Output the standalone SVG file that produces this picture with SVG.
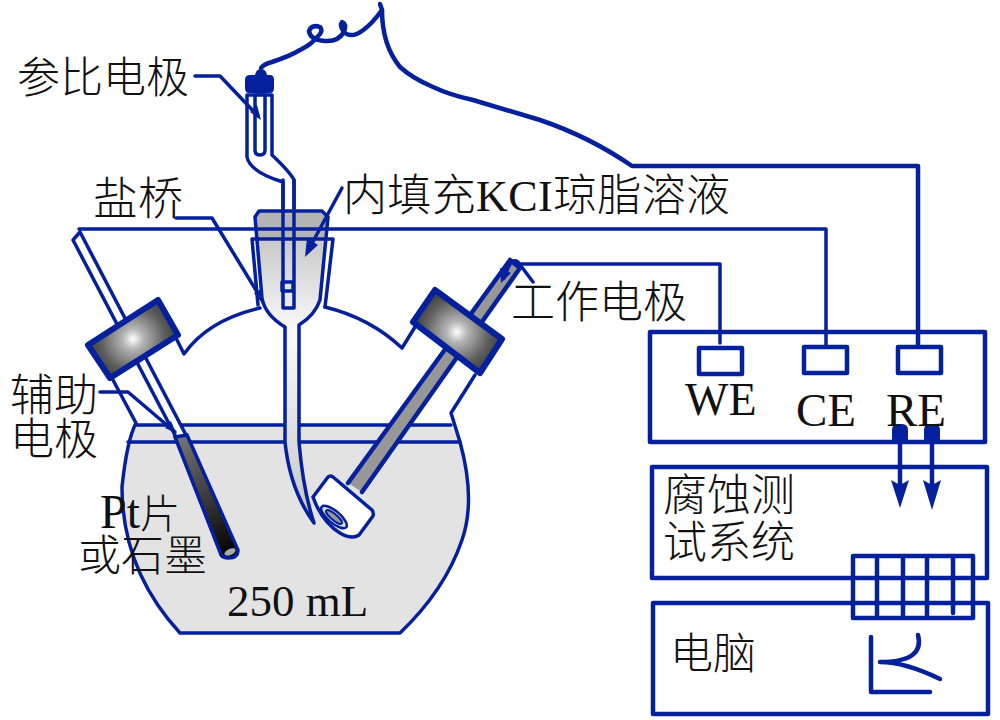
<svg xmlns="http://www.w3.org/2000/svg" width="1000" height="720" viewBox="0 0 1000 720">
<style>
.l{fill:none;stroke:#04209c;stroke-width:3.5;stroke-linejoin:round;stroke-linecap:round}
.t{stroke-width:4.5}
.s{stroke:#04209c;stroke-width:6;stroke-linejoin:round}
.w{fill:#fff}
.a{fill:#04209c}
text{font-family:"Noto Sans CJK SC","Liberation Serif",serif;fill:#111;font-weight:300}
.e{font-family:"Liberation Serif","Noto Sans CJK SC",serif;font-weight:400}
</style>
<defs>
<radialGradient id="r1" gradientUnits="userSpaceOnUse" cx="133" cy="339" r="52"><stop offset="0" stop-color="#fff"/><stop offset="0.2" stop-color="#b5b5b5"/><stop offset="0.6" stop-color="#606060"/><stop offset="1" stop-color="#2c2c2c"/></radialGradient>
<radialGradient id="r2" gradientUnits="userSpaceOnUse" cx="457" cy="332" r="52"><stop offset="0" stop-color="#fff"/><stop offset="0.2" stop-color="#b5b5b5"/><stop offset="0.6" stop-color="#606060"/><stop offset="1" stop-color="#2c2c2c"/></radialGradient>
<linearGradient id="g1" gradientUnits="userSpaceOnUse" x1="0" y1="238" x2="0" y2="330"><stop offset="0" stop-color="#c8c8c8"/><stop offset="1" stop-color="#fafafa"/></linearGradient>
<linearGradient id="g2" gradientUnits="userSpaceOnUse" x1="178" y1="436" x2="232" y2="556"><stop offset="0" stop-color="#777"/><stop offset="1" stop-color="#000"/></linearGradient>
<linearGradient id="g3" gradientUnits="userSpaceOnUse" x1="0" y1="340" x2="0" y2="522"><stop offset="0" stop-color="#fafafa"/><stop offset="1" stop-color="#c4c4c4"/></linearGradient>
</defs>
<g id="flask">
<path d="M136 424H451L460 442Q476 500 462 540Q445 590 400 632H180Q122 570 122 487Q122 460 128 441Z" fill="#e3e3e3"/>
<path class="l" d="M113 380L136 423Q127 440 122 487Q122 570 180 633H400Q445 590 462 540Q476 500 460 442L451 413L475 375"/>
<path class="l" d="M136 425H451M128 442H460"/>
<path class="l" d="M177 340L184 354Q208 320 260 308M325 307Q370 318 402 348L415 327"/>
</g>
<g id="reference-electrode">
<path class="l w" d="M247 95V157Q250 172 283 182V300H294V180Q290 172 272 155V95Z"/>
<path class="l w" d="M255 95V150Q255 155 260 155Q265 155 265 150V95Z"/>
<path class="a" d="M245 80Q245 75 250 75H255Q256 69 261 69Q266 69 267 75H270Q274 75 274 80V88Q274 93 270 93H249Q245 93 245 88Z"/>
</g>
<g id="salt-bridge">
<path d="M259 211H322L328 217L325 240H258L255 217Z" fill="#b4b4b4"/>
<path d="M258 240H325L320 300Q315 315 299 325V345H285V327Q265 315 262 298Z" fill="url(#g1)"/>
<path d="M285 345H299V442Q303 490 314 523Q290 490 285 442Z" fill="url(#g3)"/>
<path class="l" d="M255 217L259 211H322L328 217L320 300Q315 315 299 325V442Q303 490 314 523Q290 490 285 442V327Q265 315 262 298L255 217Z"/>
<path class="l" d="M258 305L252 239H333L325 307"/>
<path class="l" d="M283 180V308H294V180"/>
<path class="l" d="M282 282H293V291H282Z" fill="#aaa"/>
</g>
<g id="counter-electrode">
<path d="M73 240L80 232L187 437H176Z" class="l w"/>
<path d="M175 437L187 435L238 550Q238 558 228 558Q221 558 220 552Z" fill="url(#g2)" stroke="#04209c" stroke-width="3.5"/>
<ellipse cx="230" cy="552" rx="6" ry="3" fill="#aaa" transform="rotate(-25 230 552)"/>
<path class="s" d="M88 345L158 300L178 335L110 378Z" fill="url(#r1)"/>
</g>
<g id="working-electrode">
<path d="M510 260L520 268L362 492L348 483Z" fill="#979797"/>
<path class="l t" d="M510 260L348 483M520 268L362 492M510 260L520 268"/>
<path class="s" d="M435 290L502 339L480 373L413 322Z" fill="url(#r2)"/>
<path class="l w" d="M313 497L328 477Q330 475 333 477L372 510Q374 513 373 516L359 535Q352 540 340 533Q322 522 313 497Z"/>
<ellipse cx="334" cy="517" rx="16" ry="6" transform="rotate(40 334 517)" fill="#d8d8d8" stroke="#04209c" stroke-width="2.5"/>
<ellipse cx="334" cy="517" rx="10" ry="3" transform="rotate(40 334 517)" fill="#999" stroke="#04209c" stroke-width="2"/>
</g>
<g id="instruments">
<rect class="l t" x="650" y="332" width="335" height="110"/>
<rect class="l t" x="652" y="467" width="335" height="111"/>
<rect class="l t" x="653" y="603" width="335" height="111"/>
<rect class="l t" x="699" y="348" width="43" height="26"/>
<rect class="l t" x="804" y="347" width="43" height="26"/>
<rect class="l t" x="898" y="347" width="43" height="26"/>
<path class="l t" d="M853 556H973V618H853ZM877 556V618M903 556V618M927 556V618M953 556V613"/>
<path class="l t" d="M871 637V692H930M918 635Q925 662 880 662Q905 662 940 679"/>
</g>
<g id="connectors">
<path class="l t" d="M261 68Q264 64 272 62Q290 56 300 50Q312 44 316 38Q324 32 320 27Q312 24 309 31Q310 40 325 41Q338 42 344 32Q347 24 342 22Q339 26 345 33Q352 38 362 31Q372 24 382 10L380 4"/>
<path class="l t" d="M382 10Q382 45 400 67Q412 78 433 87Q450 95 473 100Q510 111 540 120Q590 137 632 166H918V347"/>
<path class="l" d="M79 229H826V347"/>
<path class="l" d="M515 264H720V343"/>
<path class="l" d="M195 76H220L258 116"/>
<path class="a" d="M261 120L250 112L257 105Z"/>
<path class="l" d="M176 218H212L262 300"/>
<path class="a" d="M263 304L254 293L261 289Z"/>
<path class="l" d="M342 188L310 247"/>
<path class="a" d="M305 257L307 238L318 245Z"/>
<path class="l" d="M533 282L518 262Q512 258 508 268L504 278"/>
<path class="a" d="M501 283L500 268L511 273Z"/>
<path class="l" d="M100 392H128L175 432"/>
<path class="a" d="M176 433L165 428L171 421Z"/>
<path class="l t" d="M900 433V490M932 433V490"/>
<path class="a" d="M892 430Q892 424 898 424H902Q908 424 908 430V440H892ZM924 430Q924 424 930 424H934Q940 424 940 430V440H924ZM891 480L900 485L909 480L900 508ZM923 480L932 485L941 480L932 510Z"/>
</g>
<g id="labels">
<text x="17" y="93" font-size="43">参比电极</text>
<text x="93" y="215" font-size="45">盐桥</text>
<text x="343" y="211" font-size="44" textLength="387">内填充<tspan class="e">KCI</tspan>琼脂溶液</text>
<text x="511" y="318" font-size="44">工作电极</text>
<text x="10" y="411" font-size="44">辅助</text>
<text x="10" y="455" font-size="44">电极</text>
<text x="100" y="528" font-size="40"><tspan class="e" font-size="48">Pt</tspan>片</text>
<text x="78" y="571" font-size="43">或石墨</text>
<text class="e" x="227" y="616" font-size="45">250 mL</text>
<text class="e" x="685" y="415" font-size="46">WE</text>
<text class="e" x="796" y="426" font-size="47">CE</text>
<text class="e" x="886" y="426" font-size="47">RE</text>
<text x="663" y="511" font-size="44">腐蚀测</text>
<text x="663" y="558" font-size="44">试系统</text>
<text x="670" y="669" font-size="43">电脑</text>
</g>
</svg>
